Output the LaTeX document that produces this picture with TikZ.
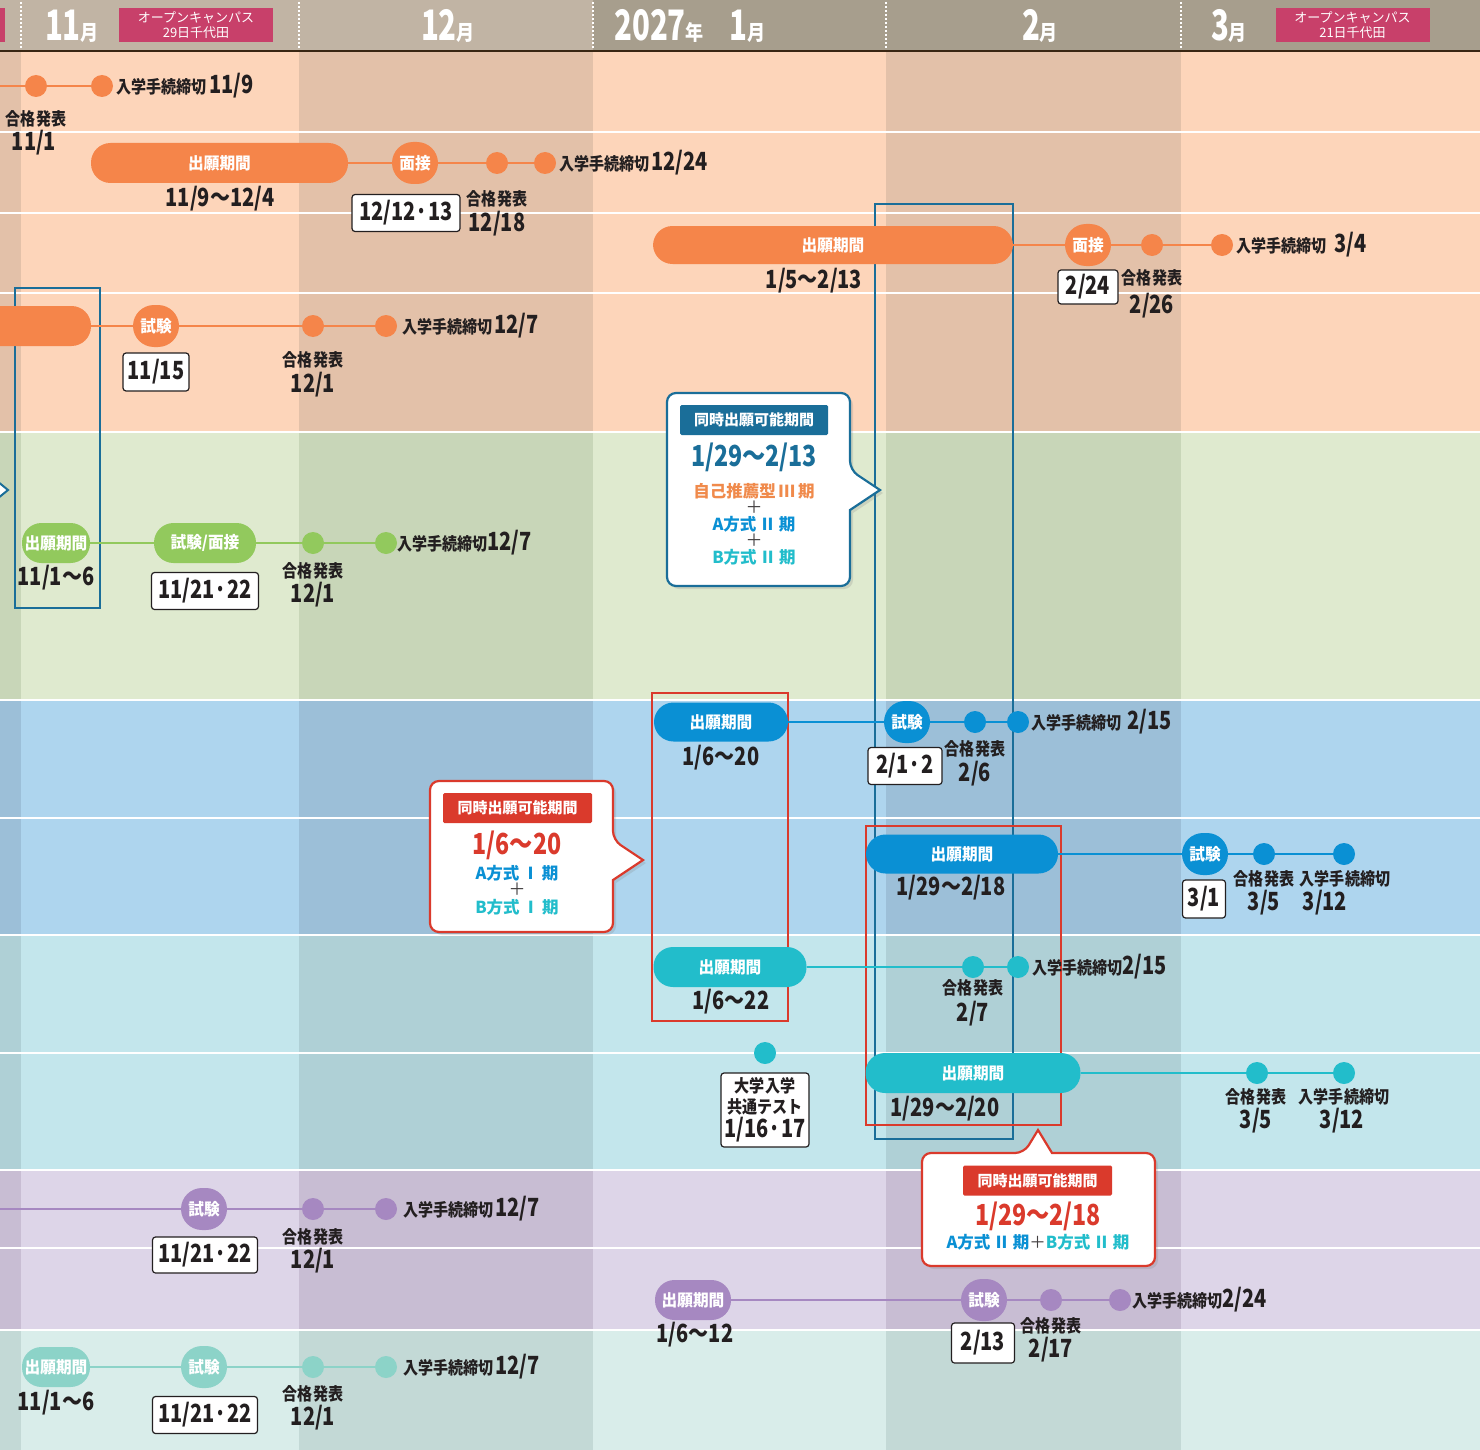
\documentclass[tikz,border=0pt]{standalone}
\usepackage{fontspec}
\usetikzlibrary{shadows}
\newfontfamily\jpf[FakeStretch=0.86]{Noto Sans CJK JP}
\newfontfamily\plf[FakeStretch=0.95]{Noto Sans CJK JP}
\newfontfamily\dtf[FakeStretch=0.8]{Noto Sans CJK JP}
\newfontfamily\hdf[FakeStretch=0.7]{Noto Sans CJK JP}
\newfontfamily\cof{Noto Sans CJK JP}
\newcommand\fLB{\jpf\bfseries\fontsize{17.5}{21}\selectfont}
\newcommand\fDT{\dtf\bfseries\fontsize{25}{27}\selectfont}
\newcommand\fPL{\plf\bfseries\fontsize{16.5}{18}\selectfont}
\newcommand\fHD{\hdf\bfseries\fontsize{42}{42}\selectfont}
\newcommand\fHM{\jpf\bfseries\fontsize{21}{21}\selectfont}
\newcommand\fCH{\cof\bfseries\fontsize{15}{16}\selectfont}
\newcommand\fCT{\cof\bfseries\fontsize{16.5}{18}\selectfont}
\newcommand\fCD{\dtf\bfseries\fontsize{29}{30}\selectfont}
\newcommand\fOC{\cof\fontsize{13}{14.5}\selectfont}
\newcommand\rsp{\hspace{3pt}}
\definecolor{ink}{HTML}{231F20}
\definecolor{org}{HTML}{F5854A}
\definecolor{grn}{HTML}{92C95D}
\definecolor{blu}{HTML}{0A90D4}
\definecolor{tea}{HTML}{22BDCB}
\definecolor{pur}{HTML}{A688C1}
\definecolor{mnt}{HTML}{8CD3C8}
\definecolor{frb}{HTML}{1A6E99}
\definecolor{frr}{HTML}{DA3A2C}
\definecolor{pnk}{HTML}{C8406A}
\definecolor{hdl}{HTML}{C1B4A4}
\definecolor{hdr}{HTML}{A79E8D}
\definecolor{oL}{HTML}{FDD5BA}\definecolor{oD}{HTML}{E3C1A9}
\definecolor{gL}{HTML}{DFEACF}\definecolor{gD}{HTML}{C8D6B8}
\definecolor{bL}{HTML}{AED5EE}\definecolor{bD}{HTML}{9CBFD8}
\definecolor{tL}{HTML}{C3E6EC}\definecolor{tD}{HTML}{AFD0D6}
\definecolor{pL}{HTML}{DDD5E8}\definecolor{pD}{HTML}{C8BDD3}
\definecolor{mL}{HTML}{D9EDEA}\definecolor{mD}{HTML}{C3D9D6}
\definecolor{orgC}{HTML}{F08A4B}
\pgfdeclarelayer{bg}\pgfdeclarelayer{mid}\pgfsetlayers{bg,mid,main}
\tikzset{
  lab/.style={font=\fLB, text=ink, inner sep=0},
  dat/.style={font=\fDT, text=ink, inner sep=0},
  dbox/.style={draw=ink, fill=white, rounded corners=3pt, line width=1.2pt, font=\fDT, text=ink, inner sep=0, minimum height=37},
  pill/.style={rounded corners=19.5pt, minimum height=40, inner sep=0, text=white, font=\fPL},
  rnd/.style={rounded corners=21pt, minimum width=46, minimum height=42, inner sep=0, text=white, font=\fPL},
  dot/.style={circle, minimum size=22, inner sep=0},
  conn/.style={line width=2.5pt},
  frame/.style={line width=2.4pt},
  hd/.style={text=white, inner sep=0},
  pinkbox/.style={fill=pnk, text=white, font=\fOC, align=center, inner sep=0, minimum width=154, minimum height=34},
  chd/.style={font=\fCH, text=white, inner sep=0, rounded corners=1.5pt, minimum height=30},
  cdt/.style={font=\fCD, inner sep=0},
  ctx/.style={font=\fCT, inner sep=0},
  cpl/.style={font=\cof\fontsize{17}{17}\selectfont, text=ink!85, inner sep=0},
  callout/.style={fill=white, line width=2.2pt, rounded corners=9pt, drop shadow={shadow xshift=3pt, shadow yshift=-3pt, opacity=0.22}}
}
\begin{document}
\begin{tikzpicture}[x=1pt,y=-1pt]
\useasboundingbox (0,0) rectangle (1480,1450);
\begin{pgfonlayer}{bg}
  \foreach \ya/\yb/\cl/\cd in {52/432/oL/oD,432/700/gL/gD,700/935/bL/bD,935/1170/tL/tD,1170/1330/pL/pD,1330/1450/mL/mD}{
    \fill[\cl] (0,\ya) rectangle (1480,\yb);
    \fill[\cd] (0,\ya) rectangle (21,\yb);
    \fill[\cd] (299,\ya) rectangle (593,\yb);
    \fill[\cd] (886,\ya) rectangle (1181,\yb);
  }
  \foreach \yy in {132,213,293,432,700,818,935,1053,1170,1248,1330}{
    \draw[white, line width=1.5pt] (0,\yy) -- (1480,\yy);
  }
  \fill[hdl] (0,0) rectangle (593,51);
  \fill[hdr] (593,0) rectangle (1480,51);
  \draw[black!70!brown, line width=2pt] (0,51) -- (1480,51);
  \foreach \xx in {21,299,593,886,1181}{
    \draw[white, line width=1.6pt, dash pattern=on 1.6pt off 2.4pt] (\xx,2) -- (\xx,49);
  }
  \fill[pnk] (0,8) rectangle (5,42);
\end{pgfonlayer}

% header texts
\node[pinkbox] (oc1) at (196,25) {オープンキャンパス\\29日千代田};
\node[pinkbox] (oc2) at (1352.5,25) {オープンキャンパス\\21日千代田};
\node[hd] (h11) at (72,26) {{\fHD 11}{\fHM 月}};
\node[hd] (h12) at (448,26) {{\fHD 12}{\fHM 月}};
\node[hd, anchor=west] (h1) at (614,26) {{\fHD 2027}{\fHM 年}\hspace{26pt}{\fHD 1}{\fHM 月}};
\node[hd] (h2) at (1040,26) {{\fHD 2}{\fHM 月}};
\node[hd] (h3) at (1229,26) {{\fHD 3}{\fHM 月}};

% Row 1
\coordinate (r1s) at (0,86);
\node[dot, fill=org] (r1a) at (36,86) {};
\node[dot, fill=org] (r1b) at (102,86) {};
\node[lab, anchor=west] (r1e) at (116,86) {入学手続締切\hspace{3pt}{\fDT 11/9}};
\node[lab] (r1g) at (36,119) {合格発表};
\node[dat] (r1d) at (34,143) {11/1};

% Row 2
\node[pill, fill=org, minimum width=257] (r2p) at (219.5,163) {出願期間};
\node[rnd, fill=org] (r2m) at (415,163) {面接};
\node[dot, fill=org] (r2a) at (497,163) {};
\node[dot, fill=org] (r2b) at (545,163) {};
\node[lab, anchor=west] (r2e) at (559,163) {入学手続締切\hspace{2pt}{\fDT 12/24}};
\node[dat] (r2pd) at (220,199) {11/9～12/4};
\node[dbox, minimum width=108] (r2x) at (406,213) {12/12·13};
\node[lab] (r2g) at (497,199) {合格発表};
\node[dat] (r2d) at (497,224) {12/18};

% Row 3
\node[pill, fill=org, minimum width=360, minimum height=38] (r3p) at (833,245) {出願期間};
\node[rnd, fill=org] (r3m) at (1088,245) {面接};
\node[dot, fill=org] (r3a) at (1152,245) {};
\node[dot, fill=org] (r3b) at (1222,245) {};
\node[lab, anchor=west] (r3e) at (1236,245) {入学手続締切\hspace{8pt}{\fDT 3/4}};
\node[dat] (r3pd) at (814,281) {1/5～2/13};
\node[dbox, minimum width=60, minimum height=34] (r3x) at (1088,287) {2/24};
\node[lab] (r3g) at (1152,278) {合格発表};
\node[dat] (r3d) at (1152,306) {2/26};

% Row 4
\node[pill, fill=org, minimum width=122] (r4p) at (30,326) {};
\node[rnd, fill=org] (r4m) at (156,326) {試験};
\node[dot, fill=org] (r4a) at (313,326) {};
\node[dot, fill=org] (r4b) at (386,326) {};
\node[lab, anchor=west] (r4e) at (402,326) {入学手続締切\hspace{2pt}{\fDT 12/7}};
\node[dbox, minimum width=66, minimum height=38] (r4x) at (156,372) {11/15};
\node[lab] (r4g) at (313,360) {合格発表};
\node[dat] (r4d) at (313,385) {12/1};

% Green
\node[pill, fill=grn, minimum width=68] (g1p) at (56,543) {出願期間};
\node[pill, fill=grn, minimum width=102] (g1m) at (205,543) {試験/面接};
\node[dot, fill=grn] (g1a) at (313,543) {};
\node[dot, fill=grn] (g1b) at (386,543) {};
\node[lab, anchor=west] (g1e) at (397,543) {入学手続締切{\fDT 12/7}};
\node[dat] (g1pd) at (56,578) {11/1～6};
\node[dbox, minimum width=107] (g1x) at (205,591) {11/21·22};
\node[lab] (g1g) at (313,571) {合格発表};
\node[dat] (g1d) at (313,595) {12/1};

% Blue A
\node[pill, fill=blu, minimum width=134, minimum height=39] (b1p) at (721,722) {出願期間};
\node[rnd, fill=blu] (b1m) at (907,722) {試験};
\node[dot, fill=blu] (b1a) at (975,722) {};
\node[dot, fill=blu] (b1b) at (1018,722) {};
\node[lab, anchor=west] (b1e) at (1031,722) {入学手続締切\hspace{6pt}{\fDT 2/15}};
\node[dat] (b1pd) at (721,758) {1/6～20};
\node[dbox, minimum width=74] (b1x) at (905,766) {2/1·2};
\node[lab] (b1g) at (975,749) {合格発表};
\node[dat] (b1d) at (975,774) {2/6};

% Blue B
\node[pill, fill=blu, minimum width=192, minimum height=39] (b2p) at (962,854) {出願期間};
\node[rnd, fill=blu] (b2m) at (1205,854) {試験};
\node[dot, fill=blu] (b2a) at (1264,854) {};
\node[dot, fill=blu] (b2b) at (1344,854) {};
\node[dat] (b2pd) at (951,888) {1/29～2/18};
\node[dbox, minimum width=43, minimum height=38] (b2x) at (1204,899) {3/1};
\node[lab] (b2g) at (1264,879) {合格発表};
\node[dat] (b2d) at (1264,903) {3/5};
\node[lab] (b2h) at (1345,879) {入学手続締切};
\node[dat] (b2f) at (1325,903) {3/12};

% Teal A
\node[pill, fill=tea, minimum width=153] (t1p) at (730,967) {出願期間};
\node[dot, fill=tea] (t1a) at (973,967) {};
\node[dot, fill=tea] (t1b) at (1018,967) {};
\node[lab, anchor=west] (t1e) at (1032,967) {入学手続締切{\fDT 2/15}};
\node[dat] (t1pd) at (731,1002) {1/6～22};
\node[lab] (t1g) at (973,988) {合格発表};
\node[dat] (t1d) at (973,1014) {2/7};

% Teal B
\node[pill, fill=tea, minimum width=215] (t2p) at (973,1073) {出願期間};
\node[dot, fill=tea] (t2a) at (1257,1073) {};
\node[dot, fill=tea] (t2b) at (1344,1073) {};
\node[dat] (t2pd) at (945,1109) {1/29～2/20};
\node[lab] (t2g) at (1256,1097) {合格発表};
\node[dat] (t2d) at (1256,1121) {3/5};
\node[lab] (t2h) at (1344,1097) {入学手続締切};
\node[dat] (t2f) at (1342,1121) {3/12};

% Common test
\node[dot, fill=tea] (ct) at (765,1053) {};
\node[dbox, minimum width=88, minimum height=74, align=center, font=\fLB] (ctx) at (765,1110) {大学入学\\共通テスト\\[1pt]{\fDT 1/16·17}};

% Purple A
\coordinate (p1s) at (0,1209);
\node[rnd, fill=pur] (p1m) at (204,1209) {試験};
\node[dot, fill=pur] (p1a) at (313,1209) {};
\node[dot, fill=pur] (p1b) at (386,1209) {};
\node[lab, anchor=west] (p1e) at (403,1209) {入学手続締切\hspace{2pt}{\fDT 12/7}};
\node[dbox, minimum width=105, minimum height=36] (p1x) at (205,1255) {11/21·22};
\node[lab] (p1g) at (313,1237) {合格発表};
\node[dat] (p1d) at (313,1261) {12/1};

% Purple B
\node[pill, fill=pur, minimum width=76] (p2p) at (693,1300) {出願期間};
\node[rnd, fill=pur] (p2m) at (984,1300) {試験};
\node[dot, fill=pur] (p2a) at (1051,1300) {};
\node[dot, fill=pur] (p2b) at (1120,1300) {};
\node[lab, anchor=west] (p2e) at (1132,1300) {入学手続締切{\fDT 2/24}};
\node[dat] (p2pd) at (695,1335) {1/6～12};
\node[dbox, minimum width=63, minimum height=40] (p2x) at (983,1343) {2/13};
\node[lab] (p2g) at (1051,1326) {合格発表};
\node[dat] (p2d) at (1051,1350) {2/17};

% Mint
\node[pill, fill=mnt, minimum width=68] (m1p) at (56,1367) {出願期間};
\node[rnd, fill=mnt] (m1m) at (204,1367) {試験};
\node[dot, fill=mnt] (m1a) at (313,1367) {};
\node[dot, fill=mnt] (m1b) at (386,1367) {};
\node[lab, anchor=west] (m1e) at (403,1367) {入学手続締切\hspace{2pt}{\fDT 12/7}};
\node[dat] (m1pd) at (56,1403) {11/1～6};
\node[dbox, minimum width=105] (m1x) at (205,1415) {11/21·22};
\node[lab] (m1g) at (313,1394) {合格発表};
\node[dat] (m1d) at (313,1418) {12/1};

\begin{pgfonlayer}{mid}
  \draw[frame, frb] (15,288) rectangle (100,608);
  \draw[frame, frb] (875,204) rectangle (1013,1139);
  \draw[frame, frr] (652,693) rectangle (788,1021);
  \draw[frame, frr] (866,826) rectangle (1061,1125);
  \draw[frb, fill=white, line width=2pt] (-3,481) -- (8,490) -- (-3,499);
  \draw[conn, org] (r1s) -- (r1a) -- (r1b);
  \draw[conn, org] (r2p) -- (r2m) -- (r2a) -- (r2b);
  \draw[conn, org] (r3p) -- (r3m) -- (r3a) -- (r3b);
  \draw[conn, org] (r4p) -- (r4m) -- (r4a) -- (r4b);
  \draw[conn, grn] (g1p) -- (g1m) -- (g1a) -- (g1b);
  \draw[conn, blu] (b1p) -- (b1m) -- (b1a) -- (b1b);
  \draw[conn, blu] (b2p) -- (b2m) -- (b2a) -- (b2b);
  \draw[conn, tea] (t1p) -- (t1a) -- (t1b);
  \draw[conn, tea] (t2p) -- (t2a) -- (t2b);
  \draw[conn, pur] (p1s) -- (p1m) -- (p1a) -- (p1b);
  \draw[conn, pur] (p2p) -- (p2m) -- (p2a) -- (p2b);
  \draw[conn, mnt] (m1p) -- (m1m) -- (m1a) -- (m1b);
\end{pgfonlayer}

% Callout 1 (blue)
\draw[callout, draw=frb] (760,393) -- (850,393) -- (850,470) [sharp corners] -- (880,490) -- (850,510) [rounded corners=9pt] -- (850,586) -- (667,586) -- (667,393) -- cycle;
\node[chd, fill=frb, minimum width=148] (c1h) at (754,420) {同時出願可能期間};
\node[cdt, text=frb] (c1d) at (754,457) {1/29～2/13};
\node[ctx, text=orgC] (c1a) at (754,491) {自己推薦型\rsp Ⅲ\rsp 期};
\node[cpl] (c1p) at (754,507) {＋};
\node[ctx, text=blu] (c1b) at (754,524) {A方式\rsp Ⅱ\rsp 期};
\node[cpl] (c1q) at (754,540) {＋};
\node[ctx, text=tea] (c1c) at (754,557) {B方式\rsp Ⅱ\rsp 期};

% Callout 2 (red)
\draw[callout, draw=frr] (520,781) -- (613,781) -- (613,840) [sharp corners] -- (643,860) -- (613,880) [rounded corners=9pt] -- (613,932) -- (430,932) -- (430,781) -- cycle;
\node[chd, fill=frr, minimum width=149] (c2h) at (517.5,808) {同時出願可能期間};
\node[cdt, text=frr] (c2d) at (517,845) {1/6～20};
\node[ctx, text=blu] (c2b) at (517,873) {A方式\rsp Ⅰ\rsp 期};
\node[cpl] (c2p) at (517,889) {＋};
\node[ctx, text=tea] (c2c) at (517,907) {B方式\rsp Ⅰ\rsp 期};

% Callout 3 (red, bottom)
\draw[callout, draw=frr] (1100,1153) -- (1155,1153) -- (1155,1266) -- (922,1266) -- (922,1153) -- (1024,1153) [sharp corners] -- (1038,1130) -- (1052,1153) [rounded corners=9pt] -- cycle;
\node[chd, fill=frr, minimum width=149] (c3h) at (1037.5,1180.5) {同時出願可能期間};
\node[cdt, text=frr] (c3d) at (1038,1216) {1/29～2/18};
\node[ctx] (c3b) at (1038,1242) {{\color{blu}A方式\rsp Ⅱ\rsp 期}{\color{ink!85}\cof\mdseries ＋}{\color{tea}B方式\rsp Ⅱ\rsp 期}};
\end{tikzpicture}
\end{document}
